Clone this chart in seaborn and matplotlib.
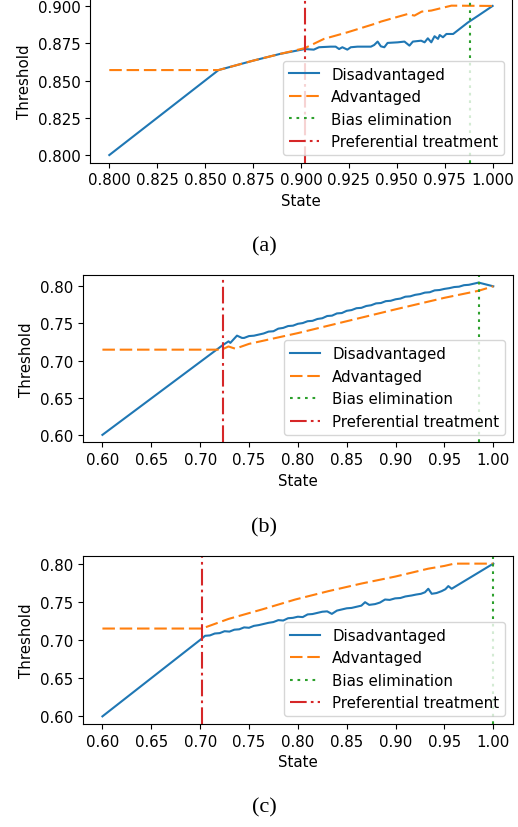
import numpy as np
import pandas as pd
import matplotlib
matplotlib.use('Agg')
import matplotlib.pyplot as plt
import seaborn as sns

# 数据
# (a)
xa_dis = [0.800, 0.857, 0.875, 0.889, 0.902, 0.9067, 0.9094, 0.9155, 0.9181, 0.9199, 0.9216,
          0.9242, 0.9260, 0.9295, 0.9365, 0.9382, 0.9400, 0.9417, 0.9435, 0.9452, 0.9505,
          0.9540, 0.9566, 0.9584, 0.9627, 0.9645, 0.9662, 0.9680, 0.9697, 0.9715, 0.9724,
          0.9741, 0.9759, 0.9794, 0.9872, 0.9925, 1.000]
ya_dis = [0.800, 0.857, 0.8633, 0.8678, 0.8711, 0.8707, 0.8723, 0.8727, 0.8727, 0.8711, 0.8723,
          0.8707, 0.8723, 0.8727, 0.8727, 0.8738, 0.8761, 0.8729, 0.8723, 0.8752, 0.8756,
          0.8761, 0.8734, 0.8761, 0.8767, 0.8756, 0.8783, 0.8756, 0.8797, 0.8779, 0.8805,
          0.8790, 0.8812, 0.8812, 0.8890, 0.8935, 0.900]
xa_adv = [0.800, 0.857, 0.875, 0.889, 0.902, 0.912, 0.9242, 0.940, 0.9417, 0.9557, 0.9592,
          0.963, 0.968, 0.9785, 1.000]
ya_adv = [0.857, 0.857, 0.8633, 0.8678, 0.8717, 0.8779, 0.8823, 0.8886, 0.8895, 0.8946, 0.8935,
          0.8962, 0.8969, 0.9002, 0.900]
bias_a = 0.988
pref_a = 0.902

# (b)
xb_dis = [0.600, 0.7228, 0.7291, 0.7309, 0.7377, 0.7428, 0.745, 0.750, 0.755, 0.760, 0.765,
          0.770, 0.775, 0.780, 0.785, 0.790, 0.795, 0.800, 0.805, 0.810, 0.815, 0.820, 0.825,
          0.830, 0.835, 0.840, 0.845, 0.850, 0.855, 0.860, 0.865, 0.870, 0.875, 0.880, 0.885,
          0.890, 0.895, 0.900, 0.905, 0.910, 0.915, 0.920, 0.925, 0.930, 0.935, 0.940, 0.945,
          0.950, 0.955, 0.960, 0.965, 0.970, 0.975, 0.980, 0.985, 1.000]
yb_dis = [0.600, 0.7205, 0.7259, 0.7238, 0.7336, 0.7305, 0.7305, 0.7330, 0.7335, 0.7350, 0.7365,
          0.7390, 0.7395, 0.7430, 0.7440, 0.7465, 0.7470, 0.7495, 0.7505, 0.7530, 0.7535, 0.7560,
          0.7570, 0.7600, 0.7605, 0.7635, 0.7640, 0.7670, 0.7680, 0.7705, 0.7710, 0.7735, 0.7745,
          0.7770, 0.7775, 0.7800, 0.7805, 0.7825, 0.7835, 0.7860, 0.7865, 0.7885, 0.7895, 0.7915,
          0.7920, 0.7945, 0.7950, 0.7965, 0.7975, 0.7990, 0.7995, 0.8015, 0.8020, 0.8035, 0.8050,
          0.800]
xb_adv = [0.600, 0.722, 0.729, 0.736, 0.750, 0.800, 0.850, 0.900, 0.950, 0.985, 1.000]
yb_adv = [0.7147, 0.7147, 0.7190, 0.7160, 0.7225, 0.7370, 0.7530, 0.7690, 0.7845, 0.7940, 0.800]
bias_b = 0.985
pref_b = 0.7234

# (c)
xc_dis = [0.600, 0.7019, 0.705, 0.710, 0.715, 0.720, 0.725, 0.730, 0.735, 0.740, 0.745, 0.750,
          0.755, 0.760, 0.765, 0.770, 0.775, 0.780, 0.785, 0.790, 0.795, 0.800, 0.805, 0.810,
          0.815, 0.820, 0.825, 0.830, 0.8348, 0.840, 0.845, 0.850, 0.855, 0.860, 0.865, 0.8688,
          0.873, 0.879, 0.884, 0.8892, 0.894, 0.8995, 0.905, 0.910, 0.9165, 0.921, 0.926,
          0.9301, 0.9335, 0.937, 0.942, 0.9472, 0.951, 0.954, 0.9574, 1.000]
yc_dis = [0.600, 0.7020, 0.7055, 0.7060, 0.7085, 0.7090, 0.7115, 0.7110, 0.7135, 0.7140, 0.7165,
          0.7160, 0.7185, 0.7195, 0.7210, 0.7225, 0.7235, 0.7260, 0.7255, 0.7285, 0.7290, 0.7305,
          0.7300, 0.7335, 0.7340, 0.7355, 0.7370, 0.7375, 0.7342, 0.7385, 0.7400, 0.7415, 0.7420,
          0.7435, 0.7450, 0.7495, 0.7460, 0.7470, 0.7490, 0.7530, 0.7525, 0.7545, 0.7550, 0.7570,
          0.7583, 0.7595, 0.7605, 0.7625, 0.7671, 0.7605, 0.7615, 0.7640, 0.7665, 0.7706, 0.7671,
          0.800]
xc_adv = [0.600, 0.7019, 0.7291, 0.7633, 0.7973, 0.8314, 0.8654, 0.8995, 0.9335, 0.950,
          0.960, 1.000]
yc_adv = [0.715, 0.715, 0.7276, 0.7400, 0.7530, 0.7640, 0.7740, 0.7830, 0.7934, 0.7970,
          0.800, 0.800]
bias_c = 0.9995
pref_c = 0.7019

panels = [
    (xa_dis, ya_dis, xa_adv, ya_adv, bias_a, pref_a, '(a)'),
    (xb_dis, yb_dis, xb_adv, yb_adv, bias_b, pref_b, '(b)'),
    (xc_dis, yc_dis, xc_adv, yc_adv, bias_c, pref_c, '(c)'),
]

plt.rcParams['font.size'] = 10.8

# 线型（虚线样式比默认的略长）
dash_adv = (0, (6.0, 2.3))
dot_bias = (0, (1.3, 2.3))
dashdot_pref = (0, (8.0, 2.0, 1.3, 2.0))

fig = plt.figure(figsize=(5.18, 8.28), dpi=100)
# 各子图位置（figure 比例）
boxes = [[0.174, 0.8025, 0.814, 0.1985],
         [0.160, 0.4644, 0.830, 0.2023],
         [0.160, 0.1244, 0.830, 0.2029]]
cap_y = [0.702, 0.363, 0.024]

for (xd, yd, xv, yv, bias, pref, cap), box, cy in zip(panels, boxes, cap_y):
    ax = fig.add_axes(box)
    sns.lineplot(x=xd, y=yd, ax=ax, color='C0', label='Disadvantaged')
    sns.lineplot(x=xv, y=yv, ax=ax, color='C1', linestyle=dash_adv, label='Advantaged')
    ax.axvline(bias, color='C2', linestyle=dot_bias, label='Bias elimination')
    ax.axvline(pref, color='C3', linestyle=dashdot_pref, label='Preferential treatment')
    ax.set_xlabel('State')
    ax.set_ylabel('Threshold')
    ax.legend(loc='lower right')
    fig.text(0.51, cy, cap, ha='center', va='center', family='Liberation Serif', fontsize=16)

fig.savefig('out.png', dpi=100)
